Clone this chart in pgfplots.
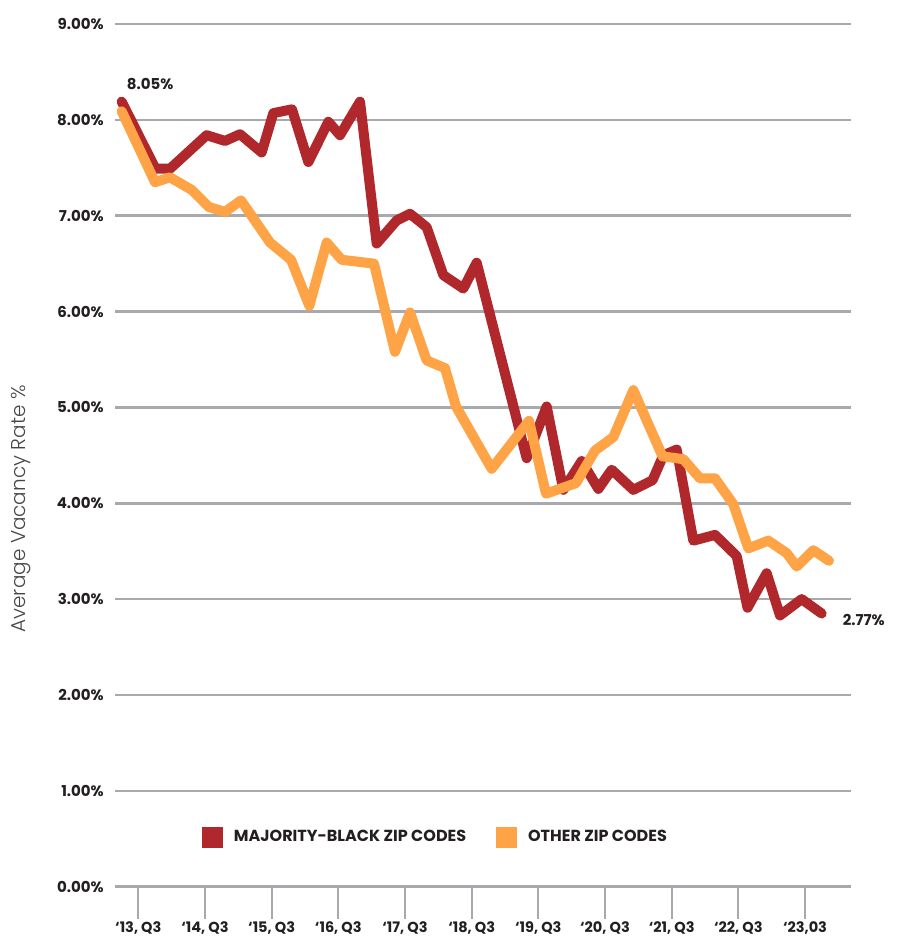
\documentclass[border=0pt]{standalone}
\usepackage{fontspec}
\setmainfont{Poppins}
\newfontfamily\poplight{Poppins Light}
\usepackage{pgfplots}
\pgfplotsset{compat=1.18}
\definecolor{majred}{RGB}{176,40,43}
\definecolor{othorange}{RGB}{255,163,71}
\definecolor{gridgrey}{RGB}{167,169,172}
\definecolor{txtdark}{RGB}{35,31,32}
\definecolor{labgrey}{RGB}{70,70,70}
\begin{document}
\begin{tikzpicture}
\path[use as bounding box] (0,0) rectangle (903bp,937bp);
\node[rotate=90, font=\poplight\fontsize{20bp}{24bp}\selectfont, text=labgrey] at (21bp,428bp) {Average Vacancy Rate \%};
\begin{axis}[
  at={(115bp,50.3bp)}, anchor=south west,
  scale only axis, width=736bp, height=862.7bp,
  xmin=-1.4, xmax=42.76, ymin=0, ymax=9,
  axis x line*=bottom, axis y line*=left,
  x axis line style={gridgrey, line width=2.5bp},
  y axis line style={draw=none},
  ymajorgrids, grid style={gridgrey, line width=2.5bp},
  ytick={0,1,...,9},
  yticklabels={0.00\%,1.00\%,2.00\%,3.00\%,4.00\%,5.00\%,6.00\%,7.00\%,8.00\%,9.00\%},
  ytick style={draw=none},
  xtick={0,4,...,40},
  xticklabels={{‘13, Q3},{‘14, Q3},{‘15, Q3},{‘16, Q3},{‘17, Q3},{‘18, Q3},{‘19, Q3},{‘20, Q3},{‘21, Q3},{‘22, Q3},{‘23,03}},
  tick align=outside, major tick length=32bp,
  xtick style={gridgrey, line width=2bp},
  ticklabel style={font=\fontsize{14.5bp}{16bp}\selectfont\bfseries, text=txtdark, inner sep=0pt},
  yticklabel style={anchor=east, xshift=21bp, font=\fontsize{15bp}{16bp}\selectfont\bfseries},
  xticklabel style={anchor=north, yshift=-2.5bp},
  clip=false,
  legend columns=2,
  legend style={draw=none, fill=none, at={(0.434,0.0576)}, anchor=center,
    font=\fontsize{16bp}{18bp}\selectfont\bfseries, text=txtdark,
    /tikz/every odd column/.append style={column sep=11bp},
    /tikz/every even column/.append style={column sep=30bp},
    nodes={inner sep=0pt}},
  legend image code/.code={\fill[#1, draw=none] (0bp,-10.5bp) rectangle (21bp,10.5bp);},
]
\addplot[majred, line width=10bp, line join=round, line cap=round] coordinates {
(-1.0,8.19) (1.03,7.49) (1.9,7.49) (4.1,7.84) (5.2,7.78) (6.1,7.85) (7.4,7.66)
(8.1,8.07) (9.22,8.11) (10.2,7.56) (11.4,7.98) (12.1,7.84) (13.3,8.19)
(14.3,6.71) (15.5,6.95) (16.3,7.02) (17.3,6.88) (18.3,6.38) (19.5,6.24) (20.3,6.51)
(23.3,4.47) (24.5,5.01) (25.5,4.14) (26.6,4.44) (27.6,4.15) (28.4,4.35) (29.7,4.14)
(30.85,4.24) (31.5,4.50) (32.3,4.56) (33.3,3.61) (34.6,3.67) (35.9,3.45) (36.55,2.91)
(37.7,3.27) (38.5,2.83) (39.8,3.00) (41.0,2.85)
};
\addlegendentry{MAJORITY-BLACK ZIP CODES}
\addplot[othorange, line width=10bp, line join=round, line cap=round] coordinates {
(-1.0,8.09) (1.0,7.35) (1.9,7.40) (3.2,7.27) (4.24,7.09) (5.2,7.04) (6.16,7.16)
(7.9,6.72) (9.16,6.54) (10.26,6.06) (11.3,6.72) (12.2,6.54) (14.14,6.50)
(15.4,5.58) (16.3,5.99) (17.3,5.49) (18.4,5.41) (19.06,5.01) (21.2,4.36)
(23.44,4.86) (24.46,4.10) (26.26,4.21) (27.4,4.55) (28.5,4.69) (29.7,5.18)
(31.45,4.49) (32.7,4.46) (33.7,4.26) (34.6,4.26) (35.7,3.99) (36.6,3.53)
(37.8,3.61) (38.9,3.48) (39.5,3.34) (40.5,3.51) (41.44,3.40)
};
\addlegendentry{OTHER ZIP CODES}
\node[anchor=west, inner sep=0pt, font=\fontsize{15bp}{16bp}\selectfont\bfseries, text=txtdark] at (axis cs:-0.70,8.37) {8.05\%};
\node[anchor=west, inner sep=0pt, font=\fontsize{15bp}{16bp}\selectfont\bfseries, text=txtdark] at (axis cs:42.26,2.78) {2.77\%};
\end{axis}
\end{tikzpicture}
\end{document}
